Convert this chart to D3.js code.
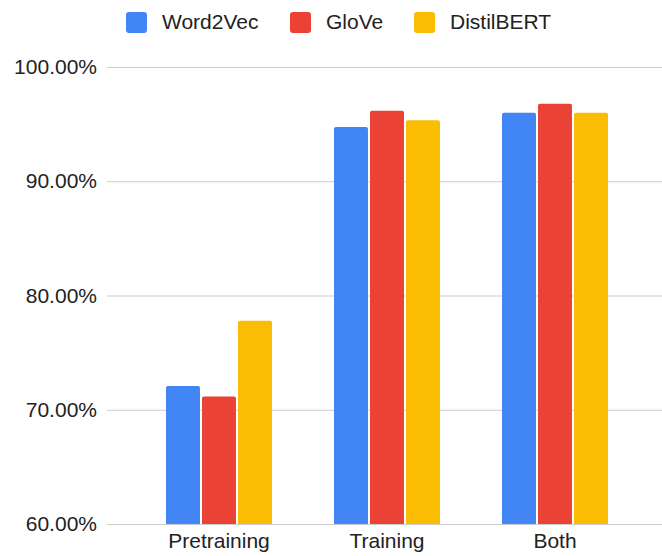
<!DOCTYPE html>
<html>
<head>
<meta charset="utf-8">
<script src="https://cdn.jsdelivr.net/npm/d3@7"></script>
<style>
  html, body { margin: 0; padding: 0; background: #fff; }
  svg { display: block; font-family: "Liberation Sans", Arial, Helvetica, sans-serif; }
</style>
</head>
<body>
<svg id="chart" width="662" height="556"></svg>
<script>
// Accuracy (%) per embedding, grouped by training setup
const categories = ["Pretraining", "Training", "Both"];
const seriesNames = ["Word2Vec", "GloVe", "DistilBERT"];
const seriesColors = ["#4285F4", "#EA4335", "#FBBC04"];
const word2vec = [72.08, 94.74, 95.99];
const glove = [71.15, 96.16, 96.78];
const distilbert = [77.78, 95.35, 95.99];
const yTicks = [60, 70, 80, 90, 100];

const seriesValues = [word2vec, glove, distilbert];

const svg = d3.select("#chart");
const W = 662, H = 556;

const y = d3.scaleLinear().domain([60, 100]).range([524, 67]);

const x0 = d3.scaleBand()
  .domain(categories)
  .range([135, 639])
  .paddingInner(0.369)
  .paddingOuter(0.1845);

const x1 = d3.scaleBand()
  .domain(seriesNames)
  .range([0, x0.bandwidth()])
  .paddingInner(0.056)
  .paddingOuter(0);

// Gridlines and y labels
const yAxis = d3.axisLeft(y)
  .tickValues(yTicks)
  .tickSize(-(W - 107))
  .tickPadding(10)
  .tickFormat(d => d.toFixed(2) + "%");

const gy = svg.append("g")
  .attr("transform", "translate(107,0)")
  .call(yAxis);
gy.select(".domain").remove();
gy.selectAll(".tick line").attr("stroke", "#cccccc").attr("stroke-width", 1.2);
gy.selectAll(".tick text")
  .attr("fill", "#222")
  .attr("font-size", 21)
  .attr("x", -10);

// Bars with lightly rounded tops
function barPath(x, yTop, w, yBottom, r) {
  return `M${x},${yBottom}V${yTop + r}Q${x},${yTop} ${x + r},${yTop}` +
         `H${x + w - r}Q${x + w},${yTop} ${x + w},${yTop + r}V${yBottom}Z`;
}

const groups = svg.append("g").selectAll("g")
  .data(categories)
  .join("g")
  .attr("transform", d => `translate(${x0(d)},0)`);

groups.selectAll("path")
  .data((c, ci) => seriesNames.map((s, si) => ({ s, si, v: seriesValues[si][ci] })))
  .join("path")
  .attr("fill", d => seriesColors[d.si])
  .attr("d", d => barPath(x1(d.s), y(d.v), x1.bandwidth(), y(60), 2));

// Category labels
const xAxis = d3.axisBottom(x0).tickSize(0).tickPadding(0);
const gx = svg.append("g")
  .attr("transform", "translate(0,524)")
  .call(xAxis);
gx.select(".domain").remove();
gx.selectAll(".tick text")
  .attr("fill", "#222")
  .attr("font-size", 21)
  .attr("dy", null)
  .attr("y", 24);

// Legend
const legendX = [126, 290, 414];
const legend = svg.append("g").selectAll("g")
  .data(seriesNames)
  .join("g")
  .attr("transform", (d, i) => `translate(${legendX[i]},0)`);
legend.append("rect")
  .attr("x", 0).attr("y", 12)
  .attr("width", 21).attr("height", 21)
  .attr("rx", 3)
  .attr("fill", (d, i) => seriesColors[i]);
legend.append("text")
  .attr("x", 36).attr("y", 28.5)
  .attr("font-size", 21)
  .attr("fill", "#222")
  .text(d => d);
</script>
</body>
</html>
